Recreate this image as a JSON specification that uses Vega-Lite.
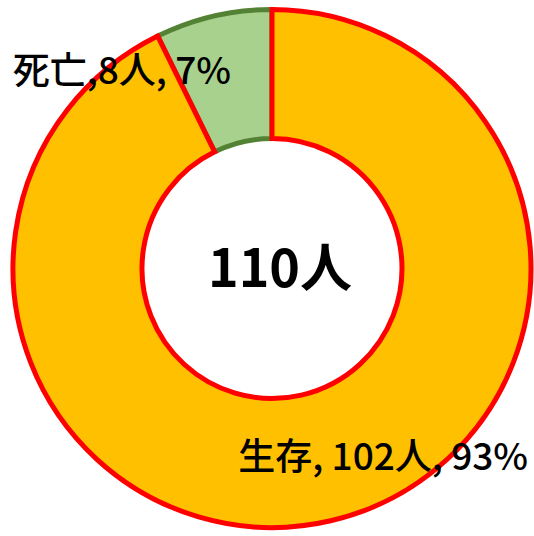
{
  "$schema": "https://vega.github.io/schema/vega-lite/v6.json",
  "autosize": {"type": "none"},
  "padding": {"left": 10, "top": 1, "right": 0, "bottom": 0},
  "width": 524,
  "height": 535,
  "background": "white",
  "config": {"view": {"stroke": null}},
  "data": {
    "values": [
      {"s": "死亡", "n": 8, "k": 2, "label": "死亡,8人, 7%"},
      {"s": "生存", "n": 102, "k": 1, "label": "生存, 102人, 93%"}
    ]
  },
  "layer": [
    {
      "mark": {"type": "arc", "outerRadius": 259, "innerRadius": 130, "strokeWidth": 5, "strokeJoin": "miter"},
      "encoding": {
        "theta": {"field": "n", "type": "quantitative", "stack": true, "scale": {"domain": [0, 110]}},
        "order": {"field": "k", "type": "quantitative"},
        "fill": {"field": "s", "type": "nominal", "scale": {"domain": ["生存", "死亡"], "range": ["#FFC000", "#A9D18E"]}, "legend": null},
        "stroke": {"field": "s", "type": "nominal", "scale": {"domain": ["生存", "死亡"], "range": ["#FF0000", "#548235"]}, "legend": null}
      }
    },
    {
      "mark": {"type": "text", "radius": 195, "dx": -106, "dy": -6, "font": "Noto Sans CJK JP", "fontSize": 37, "fontWeight": 500, "baseline": "middle", "align": "center", "color": "black"},
      "encoding": {
        "theta": {"field": "n", "type": "quantitative", "stack": true, "scale": {"domain": [0, 110]}},
        "order": {"field": "k", "type": "quantitative"},
        "text": {"condition": {"test": "datum.s == '死亡'", "field": "label"}, "value": ""}
      }
    },
    {
      "mark": {"type": "text", "radius": 195, "dx": 67, "dy": 1, "font": "Noto Sans CJK JP", "fontSize": 37, "fontWeight": 500, "baseline": "middle", "align": "center", "color": "black"},
      "encoding": {
        "theta": {"field": "n", "type": "quantitative", "stack": true, "scale": {"domain": [0, 110]}},
        "order": {"field": "k", "type": "quantitative"},
        "text": {"condition": {"test": "datum.s == '生存'", "field": "label"}, "value": ""}
      }
    },
    {
      "data": {"values": [{"t": "110人"}]},
      "mark": {"type": "text", "dx": 8, "dy": 2, "font": "Noto Sans CJK JP", "fontSize": 52, "fontWeight": "bold", "baseline": "middle", "align": "center", "color": "black"},
      "encoding": {"text": {"field": "t", "type": "nominal"}}
    }
  ]
}
